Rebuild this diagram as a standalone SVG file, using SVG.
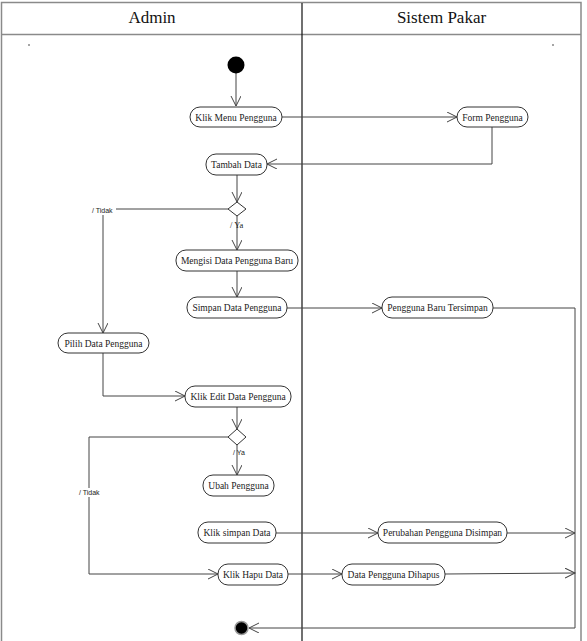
<svg xmlns="http://www.w3.org/2000/svg" width="587" height="641" viewBox="0 0 587 641">
<style>
.lane{fill:none;stroke:#8a8a8a;stroke-width:1.5}
.div{stroke:#111;stroke-width:1.2}
.hdr{font-family:"Liberation Serif","Times New Roman",serif;font-size:17px;fill:#111;text-anchor:middle}
.node rect{fill:#fff;stroke:#333;stroke-width:1}
.node text{font-family:"Liberation Serif","Times New Roman",serif;font-size:9.5px;fill:#222;text-anchor:middle}
.c{fill:none;stroke:#444;stroke-width:1}
.lbl{font-family:"Liberation Sans",Arial,sans-serif;font-size:7px;fill:#222}
.lbls{font-family:"Liberation Serif","Times New Roman",serif;font-size:8.5px;fill:#222}
</style>
<defs>
<marker id="ar" markerUnits="userSpaceOnUse" markerWidth="12" markerHeight="12" refX="10" refY="5" orient="auto">
<path d="M0,0 L10,5 L0,10" fill="none" stroke="#444" stroke-width="1"/>
</marker>
</defs>
<rect width="587" height="641" fill="#fff"/>
<g id="frame">
<path class="lane" d="M1.5,641 V2.5 H581 V641"/>
<line class="lane" x1="1.5" y1="34.5" x2="581" y2="34.5"/>
<line class="div" x1="302" y1="3" x2="302" y2="641"/>
<text class="hdr" x="152" y="23">Admin</text>
<text class="hdr" x="441.5" y="23">Sistem Pakar</text>
<circle cx="29" cy="45" r="0.8" fill="#333"/>
<circle cx="553" cy="45" r="0.8" fill="#333"/>
</g>
<g id="connectors">
<line class="c" x1="236" y1="73" x2="236" y2="106" marker-end="url(#ar)"/>
<line class="c" x1="282" y1="117" x2="457" y2="117" marker-end="url(#ar)"/>
<polyline class="c" points="492,127 492,164 267,164" marker-end="url(#ar)"/>
<line class="c" x1="237" y1="175" x2="237" y2="202" marker-end="url(#ar)"/>
<line class="c" x1="228" y1="209" x2="116" y2="209"/>
<line class="c" x1="103" y1="215" x2="103" y2="333" marker-end="url(#ar)"/>
<line class="c" x1="237" y1="216" x2="237" y2="250" marker-end="url(#ar)"/>
<line class="c" x1="237" y1="271" x2="237" y2="297" marker-end="url(#ar)"/>
<line class="c" x1="287" y1="308" x2="382" y2="308" marker-end="url(#ar)"/>
<polyline class="c" points="493,308 575,308 575,628 249,628" marker-end="url(#ar)"/>
<polyline class="c" points="103,353 103,396 185,396" marker-end="url(#ar)"/>
<line class="c" x1="237" y1="407" x2="237" y2="429" marker-end="url(#ar)"/>
<polyline class="c" points="228,437 89,437 89,574 218,574" marker-end="url(#ar)"/>
<line class="c" x1="237" y1="445" x2="237" y2="475" marker-end="url(#ar)"/>
<line class="c" x1="276" y1="533" x2="378" y2="533" marker-end="url(#ar)"/>
<line class="c" x1="507" y1="533" x2="575" y2="533" marker-end="url(#ar)"/>
<line class="c" x1="288" y1="574" x2="342" y2="574" marker-end="url(#ar)"/>
<line class="c" x1="445" y1="574" x2="575" y2="573" marker-end="url(#ar)"/>
<text class="lbl" x="92" y="213">/ Tidak</text>
<text class="lbls" x="230" y="228">/  Ya</text>
<rect x="78" y="488" width="22" height="9" fill="#fff"/>
<text class="lbl" x="79" y="495">/ Tidak</text>
<text class="lbl" x="233" y="455">/ Ya</text>
</g>
<g id="start"><circle cx="236" cy="65" r="8.5" fill="#000"/></g>
<g id="n1" class="node"><rect x="190" y="107" width="92" height="20" rx="10"/><text x="236" y="120.5">Klik Menu Pengguna</text></g>
<g id="n2" class="node"><rect x="457" y="107" width="71" height="20" rx="10"/><text x="492.5" y="120.5">Form Pengguna</text></g>
<g id="n3" class="node"><rect x="206" y="154" width="61" height="21" rx="10"/><text x="236.5" y="168">Tambah Data</text></g>
<g id="d1"><polygon points="237,202 246,209 237,216 228,209" fill="#fff" stroke="#333" stroke-width="1"/></g>
<g id="n4" class="node"><rect x="176" y="250" width="122" height="21" rx="10"/><text x="237" y="264">Mengisi Data Pengguna Baru</text></g>
<g id="n5" class="node"><rect x="187" y="297" width="100" height="21" rx="10"/><text x="237" y="311">Simpan Data Pengguna</text></g>
<g id="n6" class="node"><rect x="382" y="297" width="111" height="21" rx="10"/><text x="437.5" y="311">Pengguna Baru Tersimpan</text></g>
<g id="n7" class="node"><rect x="58" y="333" width="91" height="20" rx="10"/><text x="103.5" y="346.5">Pilih Data Pengguna</text></g>
<g id="n8" class="node"><rect x="185" y="386" width="106" height="21" rx="10"/><text x="238" y="400">Klik Edit Data Pengguna</text></g>
<g id="d2"><polygon points="237,429 246,437 237,445 228,437" fill="#fff" stroke="#333" stroke-width="1"/></g>
<g id="n9" class="node"><rect x="203" y="475" width="71" height="21" rx="10"/><text x="238.5" y="489">Ubah Pengguna</text></g>
<g id="n10" class="node"><rect x="198" y="522" width="78" height="21" rx="10"/><text x="237" y="536">Klik simpan Data</text></g>
<g id="n11" class="node"><rect x="378" y="522" width="129" height="21" rx="10"/><text x="442.5" y="536">Perubahan Pengguna Disimpan</text></g>
<g id="n12" class="node"><rect x="218" y="564" width="70" height="21" rx="10"/><text x="253" y="578">Klik Hapu Data</text></g>
<g id="n13" class="node"><rect x="342" y="564" width="103" height="21" rx="10"/><text x="393.5" y="578">Data Pengguna Dihapus</text></g>
<g id="end"><circle cx="241.5" cy="628" r="6.5" fill="#000" stroke="#999" stroke-width="1.5"/></g>
</svg>
